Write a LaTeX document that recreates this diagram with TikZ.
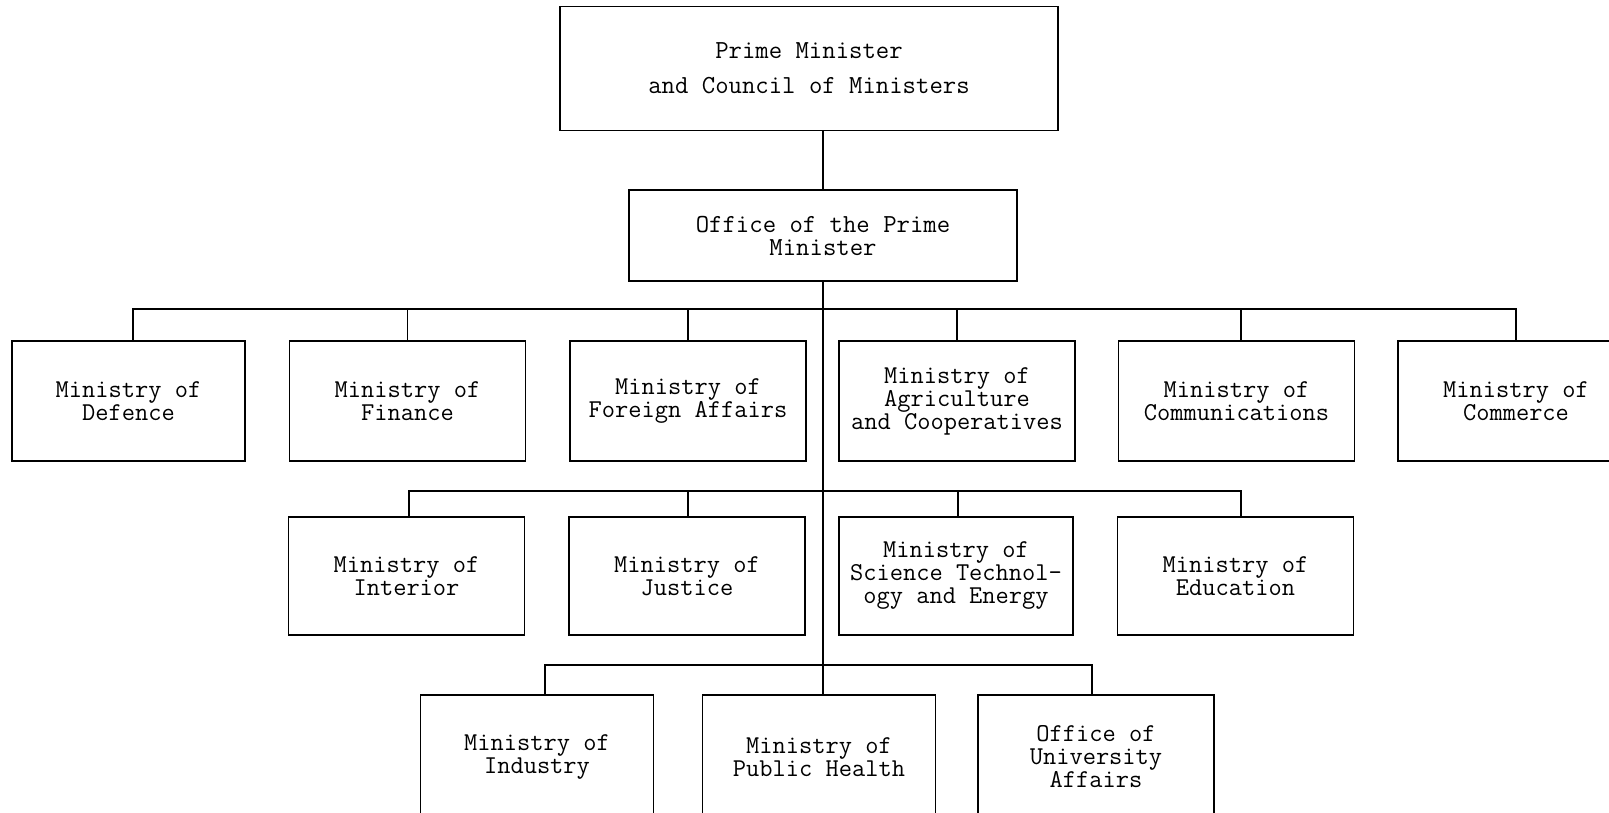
\documentclass[tikz,border=0pt]{standalone}
\usepackage{fontspec}
\begin{document}
\begin{tikzpicture}[x=1pt,y=-1pt,
  box/.style={draw, line width=1.9pt, inner sep=0pt, align=center,
    font=\ttfamily\fontsize{25.7}{23}\selectfont},
  r1/.style={box, minimum width=236pt, minimum height=120pt},
  r2/.style={box, minimum width=236pt, minimum height=118pt},
  r3/.style={box, minimum width=233pt, minimum height=124pt},
  wire/.style={line width=1.5pt}]
\useasboundingbox (0,0) rectangle (1609,813);
\clip (0,0) rectangle (1609,813);
\fill[white] (0,0) rectangle (1609,813);

\node[box, minimum width=498pt, minimum height=124pt,
  font=\ttfamily\fontsize{26}{35}\selectfont] (pm) at (809,68.5)
  {Prime Minister\\and Council of Ministers};
\node[box, minimum width=388pt, minimum height=91pt,
  font=\ttfamily\fontsize{26}{23}\selectfont] (of) at (823,235.5)
  {Office of the Prime\\Minister};

% row 1
\node[r1, minimum width=233pt] (def) at (128.5,401) {Ministry of\\Defence};
\node[r1] (fin) at (407.5,401) {Ministry of\\Finance};
\node[r1] (for) at (688,401) {Ministry of\\Foreign Affairs};
\node[r1] (agr) at (957,401) {Ministry of\\Agriculture\\and Cooperatives};
\node[r1] (comm) at (1236.5,401) {Ministry of\\Communications};
\node[r1] (comc) at (1516,401) {Ministry of\\Commerce};

% row 2
\node[r2] (int) at (406.5,576) {Ministry of\\Interior};
\node[r2] (jus) at (687,576) {Ministry of\\Justice};
\node[r2, minimum width=234pt] (sci) at (956,576) {Ministry of\\Science Technol-\\ogy and Energy};
\node[r2] (edu) at (1235.5,576) {Ministry of\\Education};

% row 3
\node[r3] (ind) at (537,757) {Ministry of\\Industry};
\node[r3] (ph) at (819,757) {Ministry of\\Public Health};
\node[r3, minimum width=236pt] (uni) at (1096,757) {Office of\\University\\Affairs};

% connectors
\coordinate (b1) at (0,309);
\coordinate (b2) at (0,491);
\coordinate (b3) at (0,665);
\draw[wire] (pm.south -| of.north) -- (of.north);
\draw[wire] (of.south) -- (of.south |- ph.north);

\draw[wire] ([xshift=4.5pt]def.north) |- (b1 -| comc.north) -- (comc.north);
\foreach \n in {fin,for,agr} \draw[wire] (\n.north) -- (\n.north |- b1);
\draw[wire] ([xshift=4.5pt]comm.north) -- ([xshift=4.5pt]comm.north |- b1);

\draw[wire] ([xshift=2.5pt]int.north) |- ([xshift=5.5pt]b2 -| edu.north) -- ([xshift=5.5pt]edu.north);
\draw[wire] ([xshift=1pt]jus.north) -- ([xshift=1pt]jus.north |- b2);
\draw[wire] ([xshift=2pt]sci.north) -- ([xshift=2pt]sci.north |- b2);

\draw[wire] ([xshift=8pt]ind.north) |- ([xshift=-4pt]b3 -| uni.north) -- ([xshift=-4pt]uni.north);
\end{tikzpicture}
\end{document}
